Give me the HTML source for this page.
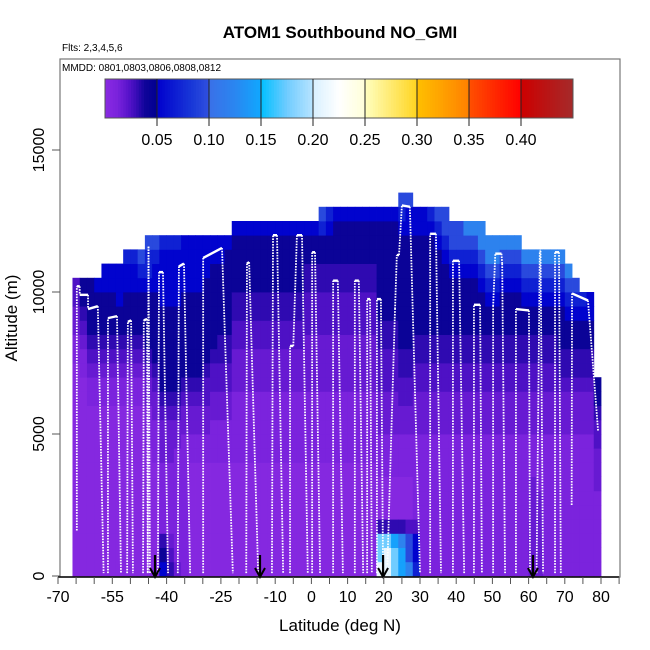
<!DOCTYPE html>
<html><head><meta charset="utf-8"><style>
html,body{margin:0;padding:0;background:#fff;}
svg{display:block;font-family:"Liberation Sans",Arial,sans-serif;}
</style></head><body>
<svg id="chart" width="650" height="650" viewBox="0 0 650 650">
<text x="340" y="38" text-anchor="middle" font-size="17" font-weight="bold">ATOM1 Southbound NO_GMI</text>
<text x="62" y="51" font-size="10">Flts: 2,3,4,5,6</text>
<g id="heat"></g>
<g id="track"></g>
<g id="arrows"></g>
<rect x="60" y="59" width="560" height="518" fill="none" stroke="#777" stroke-width="1.2"/>
<text x="62" y="71" font-size="10">MMDD: 0801,0803,0806,0808,0812</text>
<g id="cbar"></g>
<g id="xaxis"></g>
<g id="yaxis"></g>
<text x="340" y="631" text-anchor="middle" font-size="17">Latitude (deg N)</text>
<text transform="translate(17,318) rotate(-90)" text-anchor="middle" font-size="17">Altitude (m)</text>
</svg>
<script>
const latBins = [-66,-64,-62,-60,-58,-56,-54,-52,-50,-48,-46,-44,-42,-40,-38,-36,-34,-32,-30,-28,-26,-24,-22,-20,-18,-16,-14,-12,-10,-8,-6,-4,-2,0,2,4,6,8,10,12,14,16,18,20,22,24,26,28,30,32,34,36,38,40,42,44,46,48,50,52,54,56,58,60,62,64,66,68,70,72,74,76,78];
const levelValues = {"0":0.004,"1":0.011,"2":0.018,"3":0.025,"4":0.032,"5":0.042,"6":0.052,"7":0.07,"8":0.095,"9":0.12,"a":0.145,"b":0.175,"c":0.21,"d":0.24,"e":0.28};
const columnLevels = [
"000000000000000112233","000000000000001123455","000000000000112345555","000000000000112345556",
"0000000000001123455566","0000000000001123455566","0000000000001123455666",
"00000000000011234555667","00000000000011234555667","00000000000011234555678",
"000000000111223455556778","000000001112234555556678","654111112223455555566667","432111112223455555566667",
"211111111223455555566667","111111111122345555556666","000000001122345555556666","000000001122345555556666",
"000000001122334555555666","000000001112233455555566","000000001112233445555566","000000001112233445555556",
"0000000011111222334455556","0000000011111222334455556","0000000011111222334455556","0000000011111222334455556",
"0000000011111222334455556","0000000011111222334455556","0000000011111222334455556","0000000011111222334455556",
"0000000011111222334455556","0000000011111222334455556","0000000011111222233344556","0000000011111222233344556",
"00000000111112222333445578","00000000111112222333445567","00000000111112222333445556","00000000111112222333445556",
"00000000111112222333445556","00000000111112222333445556","00000000111112222333445556","00000000111112222333445556",
"cbb40001112223334455555556","ccb40001112223334455555556","bba40001112223334455555556",
"aa9400011122334455555555678","988300011122334455555555668",
"76631111112223344555555566","11111111112223344555555566","11111111112223344555555567","11111111112223344555555678","11111111112223344555556788",
"1111111111222334455556788","1111111111222334455556788","1111111111222334455556789","1111111111222334455556789","1111111111222334455567899",
"111111111122233445567899","111111111122233445567899","111111111122233445556789","111111111122233445556789","111111111122233445556789",
"11111111112223344556789","22222221112223344556789","22222211112223344556789","11111111112223344556789","11111111112223344556789",
"11111111112223445556789","1111111111222344556789","111111111122234455678","11111111112223445567","11111111112223445566","11111122233455"
];
const trackLat = [-64.8,-64.8,-64.0,-64.0,-61.7,-61.7,-59.0,-57.4,null,
-56.2,-56.2,-53.7,-52.6,null,-50.9,-50.7,-49.8,-49.3,null,-46.5,-46.3,-45.4,-45.2,null,-45.2,-45.0,-44.6,null,
-42.4,-42.1,-41.0,-39.6,null,-36.9,-36.6,-35.2,-33.5,null,-29.9,-29.9,-24.7,-21.7,null,-18.0,-17.8,-17.2,-14.7,null,
-10.9,-10.6,-9.5,-7.8,null,-5.9,-5.9,-5.0,-4.0,-2.6,-1.0,null,0.2,0.2,1.0,2.4,null,6.0,6.0,7.3,8.7,null,
12.0,12.0,13.1,14.3,null,15.4,15.4,16.2,16.7,null,18.1,18.1,19.2,19.8,null,21.0,23.1,23.6,24.2,25.0,27.2,30.0,null,
32.8,32.8,34.4,35.8,null,39.1,39.1,40.8,42.2,null,44.9,44.9,46.6,47.1,null,50.2,50.2,50.8,52.5,52.7,53.5,null,
56.5,56.5,60.1,60.4,null,62.2,63.1,63.3,64.0,null,67.3,67.3,68.4,68.9,null,71.9,72.0,76.4,79.2];
const trackAlt = [1600,10200,10200,9900,9900,9400,9500,100,null,
100,9080,9150,100,null,100,8950,9000,100,null,100,9000,9050,100,null,100,11600,100,null,
100,10700,10700,100,null,100,10900,11000,100,null,100,11200,11550,100,null,100,11000,11050,100,null,
100,12000,12000,100,null,100,8100,8100,12000,12000,100,null,100,11400,11400,100,null,100,10400,10400,100,null,
100,10400,10400,100,null,100,9750,9750,100,null,100,9750,9750,100,null,400,9400,11300,11300,13050,13000,100,null,
100,12050,12050,100,null,100,11100,11100,100,null,100,9550,9550,100,null,100,9500,11350,11350,11000,100,null,
100,9400,9350,100,null,100,11450,11450,100,null,100,11400,11400,100,null,2500,9950,9700,5100];
const arrowLats = [-43.2,-14.2,19.8,61.2];
const xTicks = [-70,-65,-60,-55,-50,-45,-40,-35,-30,-25,-20,-15,-10,-5,0,5,10,15,20,25,30,35,40,45,50,55,60,65,70,75,80,85];
const xLabels = [-70,-55,-40,-25,-10,0,10,20,30,40,50,60,70,80];
const yTicks = [0,5000,10000,15000];
const cbarTicks = [0.05,0.10,0.15,0.20,0.25,0.30,0.35,0.40];

const NS="http://www.w3.org/2000/svg";
function xS(lat){return 311.4+lat*3.62;}
function yS(alt){return 576-alt*0.0284;}
function cS(v){return 105+v/0.45*468;}
const stops=[[0,'#8a2be2'],[0.012,'#7a22dc'],[0.022,'#5a14cc'],[0.03,'#3a0cb8'],[0.038,'#10049a'],[0.0499,'#000090'],
[0.05,'#0000cd'],[0.085,'#1a3ad8'],[0.0999,'#3050e0'],[0.1,'#3a70e8'],[0.125,'#2a86f0'],[0.1499,'#10a8ff'],
[0.15,'#00bfff'],[0.175,'#70ccff'],[0.1999,'#b8e4ff'],[0.2,'#d8f0ff'],[0.225,'#ffffff'],[0.2499,'#ffffd8'],
[0.25,'#ffffc0'],[0.2999,'#ffd520'],[0.3,'#ffc000'],[0.3499,'#ff8000'],[0.35,'#ff5000'],[0.3999,'#ff0000'],
[0.4,'#cd0000'],[0.45,'#a52a2a']];
function hx(h){return [parseInt(h.slice(1,3),16),parseInt(h.slice(3,5),16),parseInt(h.slice(5,7),16)];}
function cmap(v){
  if(v<=0) return stops[0][1];
  for(let i=1;i<stops.length;i++){
    if(v<=stops[i][0]){const a=stops[i-1],b=stops[i];const t=(v-a[0])/(b[0]-a[0]);
      const ca=hx(a[1]),cb=hx(b[1]);
      return 'rgb('+ca.map((c,k)=>Math.round(c+(cb[k]-c)*t)).join(',')+')';}
  }
  return stops[stops.length-1][1];
}
function mk(tag,attrs,parent){const e=document.createElementNS(NS,tag);for(const k in attrs)e.setAttribute(k,attrs[k]);parent.appendChild(e);return e;}

const heat=document.getElementById('heat');
latBins.forEach((lat,i)=>{
  const s=columnLevels[i];
  for(let r=0;r<s.length;r++){
    const v=levelValues[s[r]];
    const x0=xS(lat),x1=xS(lat+2),y0=yS((r+1)*500),y1=yS(r*500);
    const c=mk('rect',{x:x0.toFixed(2),y:y0.toFixed(2),width:(x1-x0+0.4).toFixed(2),height:(y1-y0+0.4).toFixed(2),fill:cmap(v)},heat);
    
    
  }
});

const track=document.getElementById('track');
for(let i=1;i<trackLat.length;i++){
  if(trackLat[i]===null||trackLat[i-1]===null) continue;
  const x0=xS(trackLat[i-1]),y0=yS(trackAlt[i-1]),x1=xS(trackLat[i]),y1=yS(trackAlt[i]);
  const level=Math.abs(y1-y0)<Math.abs(x1-x0)*1.5;
  const l=mk('line',{x1:x0,y1:y0,x2:x1,y2:y1,stroke:'#fff','stroke-width':level?2.4:1.8,'stroke-dasharray':level?'none':'1.6 1.2'},track);
  
  
}

const arr=document.getElementById('arrows');
arrowLats.forEach(lat=>{
  const x=xS(lat);
  const g=mk('g',{},arr);
  
  
  mk('line',{x1:x,y1:555,x2:x,y2:576,stroke:'#000','stroke-width':2.2},g);
  mk('polyline',{points:(x-5)+',568 '+x+',577 '+(x+5)+',568',fill:'none',stroke:'#000','stroke-width':2},g);
});

const cb=document.getElementById('cbar');
for(let v=0;v<0.45;v+=0.0025){
  const r=mk('rect',{x:cS(v).toFixed(2),y:79,width:(cS(0.0025)-105+0.4).toFixed(2),height:39,fill:cmap(v+0.00125)},cb);
  
  
}
mk('rect',{x:105,y:79,width:468,height:39,fill:'none',stroke:'#555','stroke-width':1},cb);
cbarTicks.forEach(t=>{
  const x=cS(t);
  mk('line',{x1:x,y1:79,x2:x,y2:126,stroke:'#222','stroke-width':1},cb);
  const tx=mk('text',{x:x,y:145,'text-anchor':'middle','font-size':16},cb);
  tx.textContent=t.toFixed(2);
  
  
});

const xa=document.getElementById('xaxis');
mk('line',{x1:xS(-70),y1:577,x2:xS(85),y2:577,stroke:'#000','stroke-width':1.5},xa);
xTicks.forEach(t=>{mk('line',{x1:xS(t),y1:577,x2:xS(t),y2:584,stroke:'#555','stroke-width':1},xa);});
xLabels.forEach(t=>{
  const tx=mk('text',{x:xS(t),y:602,'text-anchor':'middle','font-size':16},xa);
  tx.textContent=String(t);
  
  
});
const ya=document.getElementById('yaxis');
yTicks.forEach(t=>{
  mk('line',{x1:52,y1:yS(t),x2:60,y2:yS(t),stroke:'#555','stroke-width':1},ya);
  const tx=mk('text',{transform:'translate(44,'+yS(t)+') rotate(-90)','text-anchor':'middle','font-size':16},ya);
  tx.textContent=String(t);
  
  
});
</script>
</body></html>
